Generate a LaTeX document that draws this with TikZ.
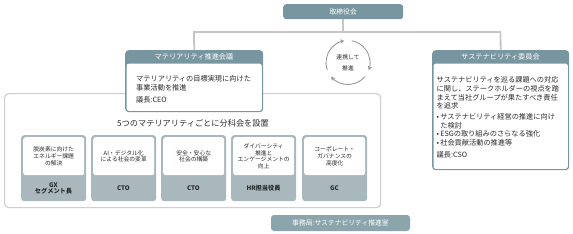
\documentclass[tikz,border=0pt]{standalone}
\usepackage{fontspec}
\setmainfont{Noto Sans CJK JP}
\usetikzlibrary{arrows.meta}
\definecolor{hdr}{HTML}{7896A0}
\definecolor{subg}{HTML}{A8B8BD}
\definecolor{secc}{HTML}{8CA5AC}
\definecolor{linec}{HTML}{C6C6C6}
\definecolor{outerc}{HTML}{CFCFCF}
\definecolor{txt}{HTML}{2A2A2A}
\definecolor{circc}{HTML}{9A9A9A}
\begin{document}
\begin{tikzpicture}[x=1pt,y=-1pt,
  hdrbox/.style={fill=hdr, rounded corners=3pt, inner sep=0pt, text=white, font=\fontsize{6.8}{8}\selectfont},
  panel/.style={fill=hdr, rounded corners=3.5pt, inner sep=0pt, anchor=north west},
  panelin/.style={fill=white, rounded corners=2.5pt, inner sep=0pt, anchor=north west},
  hdrtext/.style={text=white, inner sep=0pt, font=\fontsize{7.2}{8}\selectfont},
  body/.style={text=txt, inner sep=0pt, anchor=north west, align=left, font=\fontsize{7.2}{8.7}\selectfont},
  subbox/.style={fill=subg, rounded corners=3pt, inner sep=0pt, anchor=north west, minimum width=65pt, minimum height=66pt},
  subin/.style={fill=white, rounded corners=2.5pt, inner sep=0pt, anchor=north west, minimum width=61pt, minimum height=38pt},
  subtext/.style={text=txt, inner sep=0pt, align=center, font=\fontsize{5.8}{6.6}\selectfont},
  subfoot/.style={text=txt, inner sep=0pt, align=center, font=\fontsize{6.2}{6.8}\selectfont\bfseries},
  conn/.style={draw=linec, line width=1.8pt},
  cyc/.style={draw=circc, line width=0.9pt, -{Stealth[length=4pt,width=4.5pt]}}
]
\useasboundingbox (0,0) rectangle (573,233);

% outer group frame
\node[draw=outerc, line width=1.2pt, rounded corners=4pt, inner sep=0pt, anchor=north west,
      minimum width=376pt, minimum height=114pt] (group) at (4,93) {};

% board
\node[hdrbox, minimum width=120pt, minimum height=15pt, anchor=north west] (board) at (283,4) {取締役会};

% materiality committee
\node[panel, minimum width=138pt, minimum height=62pt] (mat) at (125,50) {};
\node[panelin, minimum width=135.4pt, minimum height=47.3pt] (matin) at (126.3,63.4) {};
\node[hdrtext] (math) at (194,56.7) {マテリアリティ推進会議};
\node[body] (matt) at (136,75.5) {マテリアリティの目標実現に向けた\\事業活動を推進\\[3.5pt]議長:CEO};

% sustainability committee
\node[panel, minimum width=137pt, minimum height=120pt] (sus) at (432,50) {};
\node[panelin, minimum width=134.4pt, minimum height=105.3pt] (susin) at (433.3,63.4) {};
\node[hdrtext] (sush) at (500.5,56.7) {サステナビリティ委員会};
\node[body] (sust) at (436.5,76.5) {サステナビリティを巡る課題への対応\\に関し、ステークホルダーの視点を踏\\まえて当社グループが果たすべき責任\\を追求\\[2pt]•\,サステナビリティ経営の推進に向け\\\hphantom{•\,}た検討\\•\,ESGの取り組みのさらなる強化\\•\,社会貢献活動の推進等\\[3.5pt]議長:CSO};

% connectors
\coordinate (jl) at (194,32);
\coordinate (jr) at (500.5,32);
\draw[conn] (board.south) -- (board.south |- jl);
\draw[conn] (mat.north) -- (jl) -- (jr) -- (sus.north);

% cooperation cycle
\node[text=txt, inner sep=0pt, align=center, font=\fontsize{5.8}{11}\selectfont] (coop) at (348,62.5) {連携して\\推進};
\draw[cyc] (coop.center) ++(-200:22) arc[start angle=-200, end angle=-100, radius=22];
\draw[cyc] (coop.center) ++(-80:22) arc[start angle=-80, end angle=20, radius=22];
\draw[cyc] (coop.center) ++(40:22) arc[start angle=40, end angle=140, radius=22];

% heading
\node[text=txt, inner sep=0pt, font=\fontsize{8.2}{9}\selectfont] (head) at (193,123) {5つのマテリアリティごとに分科会を設置};

% subcommittees
\foreach \i/\x/\a/\b in {1/21/{脱炭素に向けた\\エネルギー課題\\の解決}/{GX\\セグメント長},
                         2/91/{AI・デジタル化\\による社会の変革}/{CTO},
                         3/161/{安全・安心な\\社会の構築}/{CTO},
                         4/231/{ダイバーシティ\\推進と\\エンゲージメントの\\向上}/{HR担当役員},
                         5/302/{コーポレート・\\ガバナンスの\\高度化}/{GC}}{
  \node[subbox] (s\i) at (\x,135) {};
  \node[subin] (si\i) at (\x+2,137) {};
  \node[subtext] (st\i) at (si\i.center) {\a};
  \node[subfoot] (sf\i) at (\x+32.5,188.5) {\b};
}

% secretariat
\node[fill=secc, rounded corners=3pt, inner sep=0pt, text=white, font=\fontsize{6.8}{8}\selectfont,
      minimum width=139pt, minimum height=16pt] (sec) at (340.5,223) {事務局:サステナビリティ推進室};
\end{tikzpicture}
\end{document}
